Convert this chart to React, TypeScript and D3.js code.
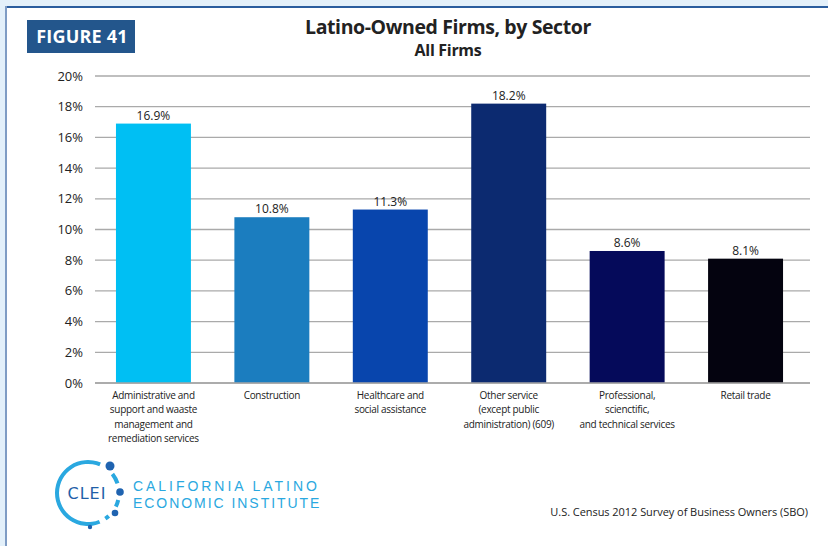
import React from "react";
import * as d3 from "d3";

const categories = [
  ["Administrative and", "support and waaste", "management and", "remediation services"],
  ["Construction"],
  ["Healthcare and", "social assistance"],
  ["Other service", "(except public", "administration) (609)"],
  ["Professional,", "scienctific,", "and technical services"],
  ["Retail trade"],
];
const values = [16.9, 10.8, 11.3, 18.2, 8.6, 8.1];
const barColors = ["#00bff3", "#1b7dbf", "#0845ad", "#0c2a70", "#050a5a", "#04030f"];
const yTicks = [0, 2, 4, 6, 8, 10, 12, 14, 16, 18, 20];

const W = 828;
const H = 546;
const plot = { left: 95, right: 810, top: 76, bottom: 383 };

export default function App() {
  const x = d3
    .scaleBand<number>()
    .domain(values.map((_, i) => i))
    .range([plot.left, 804])
    .paddingInner(0.367)
    .paddingOuter(0.177);
  const y = d3.scaleLinear().domain([0, 20]).range([plot.bottom, plot.top]);
  const font = "'Open Sans', 'Noto Sans', sans-serif";

  // logo geometry
  const cx = 88, cy = 493, r = 31;
  const seg = (a0: number, a1: number) =>
    d3.arc()({
      innerRadius: r - 2,
      outerRadius: r + 2,
      startAngle: (a0 * Math.PI) / 180,
      endAngle: (a1 * Math.PI) / 180,
    } as any) as string;
  const arcSegs = [
    [158, 383],
    [52, 72],
    [103, 116],
    [138, 146],
  ];

  return (
    <svg
      width={W}
      height={H}
      style={{ position: "absolute", left: 0, top: 0, background: "#fff" }}
    >
      <rect x={0} y={0} width={W} height={7} fill="#e3f0fa" />
      <rect x={0} y={0} width={6} height={H} fill="#e3f0fa" />
      <rect x={6} y={6} width={W - 6} height={2} fill="#2a5d9e" />
      <rect x={5} y={6} width={2} height={H - 6} fill="#7f9cc4" />

      <rect x={27} y={20} width={108} height={33} fill="#23568c" />
      <text x={82} y={43} textAnchor="middle" fill="#fff" fontFamily={font} fontWeight={700} fontSize={18} letterSpacing={0.2}>
        FIGURE 41
      </text>

      <text x={448} y={34} textAnchor="middle" fill="#222" fontFamily={font} fontWeight={700} fontSize={19.5} letterSpacing={-0.4}>
        Latino-Owned Firms, by Sector
      </text>
      <text x={448} y={56} textAnchor="middle" fill="#222" fontFamily={font} fontWeight={700} fontSize={16} letterSpacing={-0.3}>
        All Firms
      </text>

      {yTicks.map((t) => (
        <g key={t}>
          <line x1={plot.left} x2={plot.right} y1={y(t)} y2={y(t)} stroke="#aaaaaa" strokeWidth={1.3} />
          <text x={83} y={y(t) + 4.5} textAnchor="end" fill="#222" fontFamily={font} fontSize={13}>
            {t}%
          </text>
        </g>
      ))}

      {values.map((v, i) => (
        <g key={i}>
          <rect x={x(i)} y={y(v)} width={x.bandwidth()} height={y(0) - y(v)} fill={barColors[i]} />
          <text x={(x(i) as number) + x.bandwidth() / 2} y={y(v) - 4} textAnchor="middle" fill="#222" fontFamily={font} fontSize={12}>
            {v.toFixed(1)}%
          </text>
          {categories[i].map((line, j) => (
            <text
              key={j}
              x={(x(i) as number) + x.bandwidth() / 2}
              y={399 + j * 14.3}
              textAnchor="middle"
              fill="#222"
              fontFamily={font}
              fontSize={10}
              letterSpacing={-0.3}
            >
              {line}
            </text>
          ))}
        </g>
      ))}
      <line x1={plot.left} x2={plot.right} y1={y(0)} y2={y(0)} stroke="#a6a6a6" strokeWidth={1.5} />

      {/* logo */}
      <g transform={`translate(${cx},${cy})`}>
        {arcSegs.map(([a0, a1], k) => (
          <path key={k} d={seg(a0, a1)} fill="#2aa8e0" />
        ))}
      </g>
      <circle cx={110} cy={466} r={4.5} fill="#1f63b0" />
      <circle cx={120} cy={492} r={3.8} fill="#1f63b0" />
      <circle cx={115} cy={513} r={3.3} fill="#1f63b0" />
      <circle cx={90} cy={527} r={2.2} fill="#1f63b0" />
      <text x={87} y={499} textAnchor="middle" fill="#1f5fa8" fontFamily="'DejaVu Sans', sans-serif" fontSize={16} letterSpacing={1}>
        CLEI
      </text>
      <text x={133} y={491} fill="#2aa8e0" fontFamily="'Liberation Sans', sans-serif" fontSize={14} letterSpacing={2.95}>
        CALIFORNIA LATINO
      </text>
      <text x={133} y={508} fill="#2aa8e0" fontFamily="'Liberation Sans', sans-serif" fontSize={14} letterSpacing={1.95}>
        ECONOMIC INSTITUTE
      </text>

      <text x={808} y={516} textAnchor="end" fill="#222" fontFamily={font} fontSize={11} letterSpacing={-0.05}>
        U.S. Census 2012 Survey of Business Owners (SBO)
      </text>
    </svg>
  );
}
